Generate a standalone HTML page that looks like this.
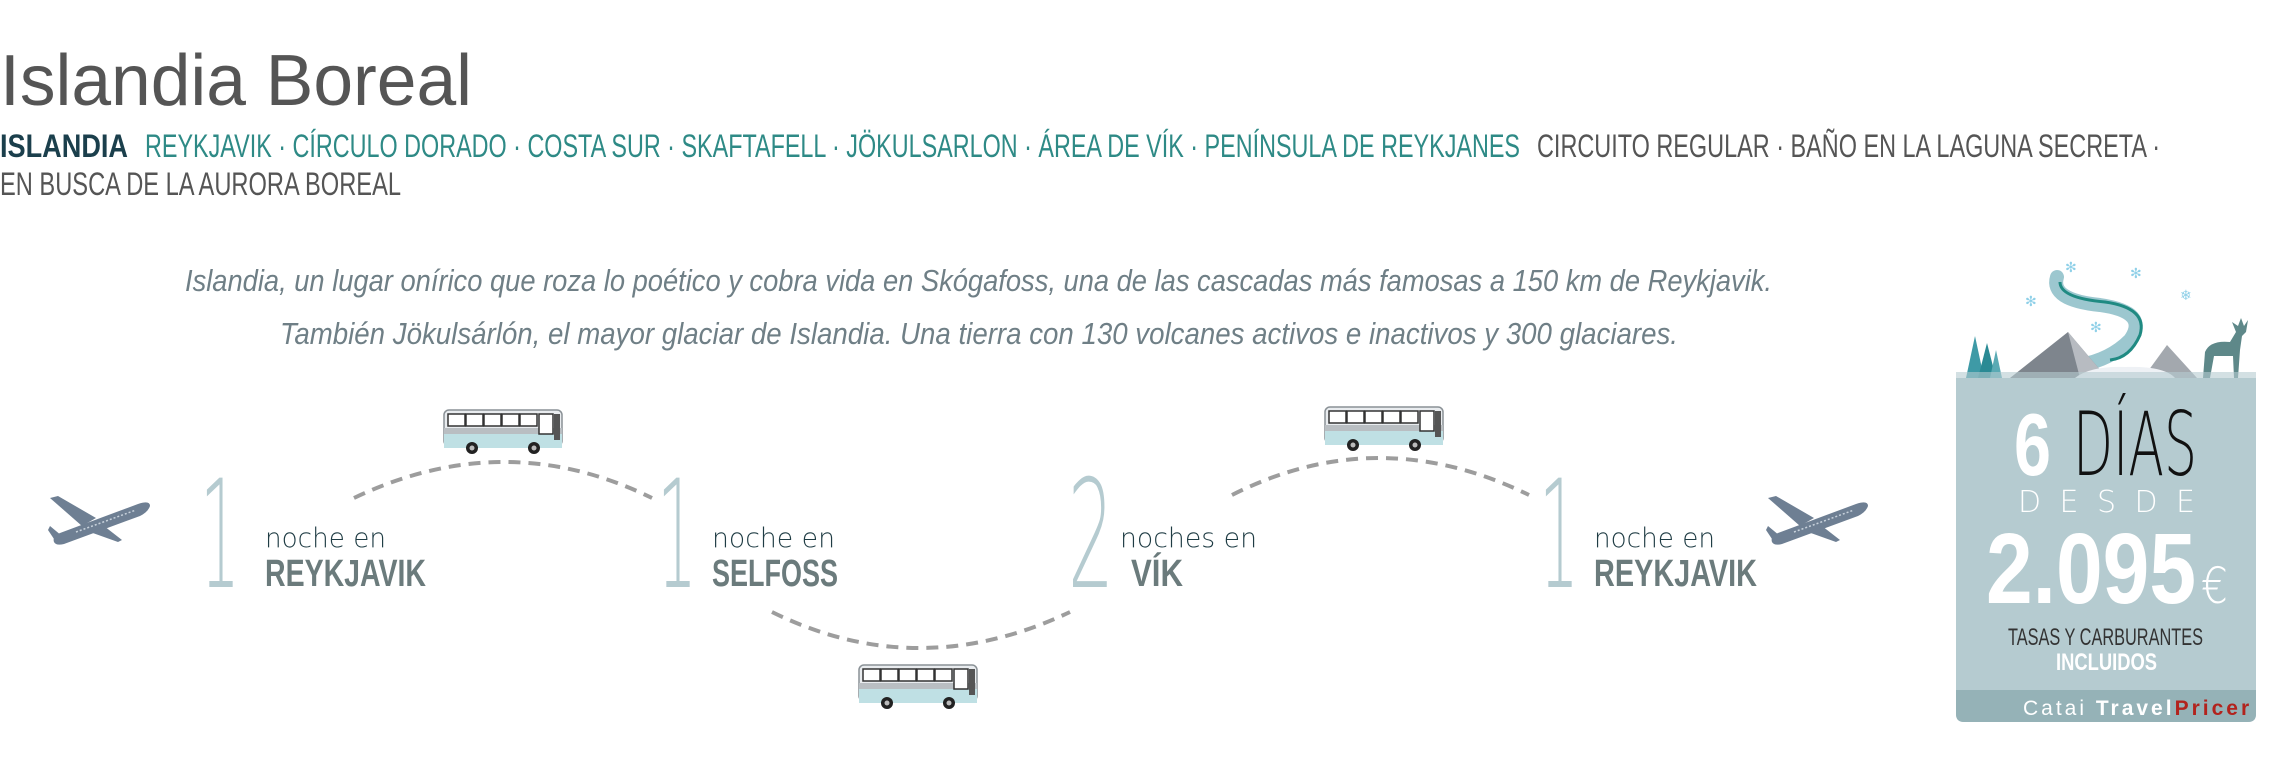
<!DOCTYPE html>
<html><head><meta charset="utf-8"><style>
html,body{margin:0;padding:0;background:#fff;}
svg{display:block;}
.thin{font-family:"DejaVu Sans ExtraLight","DejaVu Sans","Liberation Sans",sans-serif;font-weight:200;}
</style></head><body>
<svg width="2278" height="768" viewBox="0 0 2278 768" xmlns="http://www.w3.org/2000/svg" font-family="Liberation Sans, sans-serif">
<defs>
<g id="bus">
  <rect x="2" y="2" width="118" height="36" rx="5" fill="#e9ecef" stroke="#8a9196" stroke-width="1.5"/>
  <rect x="2" y="26" width="118" height="14" fill="#bfe0e4"/>
  <rect x="2" y="20" width="118" height="6" fill="#b9bec2"/>
  <g fill="#fff" stroke="#333" stroke-width="1.5">
    <rect x="6" y="6" width="17" height="12"/><rect x="24" y="6" width="17" height="12"/>
    <rect x="42" y="6" width="17" height="12"/><rect x="60" y="6" width="17" height="12"/>
    <rect x="78" y="6" width="17" height="12"/><rect x="97" y="6" width="14" height="20"/>
  </g>
  <rect x="112" y="6" width="6" height="26" fill="#555"/>
  <circle cx="30" cy="40" r="6" fill="#222"/><circle cx="30" cy="40" r="2.5" fill="#bbb"/>
  <circle cx="92" cy="40" r="6" fill="#222"/><circle cx="92" cy="40" r="2.5" fill="#bbb"/>
</g>
<g id="plane" fill="#6e7f93">
  <path d="M8 48 Q6 42 14 39 L92 10 Q104 6 104 12 Q102 18 94 22 L18 50 Q10 52 8 48 Z"/>
  <path d="M50 24 L12 2 L4 4 L36 32 Z"/>
  <path d="M58 32 L76 46 L72 48 L44 38 Z"/>
  <path d="M16 42 L4 32 L2 36 L10 48 Z"/>
  <line x1="30" y1="38" x2="90" y2="16" stroke="#c8d2dc" stroke-width="1.5" stroke-dasharray="2 2"/>
</g>
</defs>

<!-- Header -->
<text x="0" y="105" font-size="72" fill="#555" textLength="472" lengthAdjust="spacingAndGlyphs">Islandia Boreal</text>
<text x="0" y="157" font-size="32" font-weight="bold" fill="#1b3f4c" textLength="128" lengthAdjust="spacingAndGlyphs">ISLANDIA</text>
<text x="145" y="157" font-size="32" fill="#2e8a86" textLength="1375" lengthAdjust="spacingAndGlyphs">REYKJAVIK · CÍRCULO DORADO · COSTA SUR · SKAFTAFELL · JÖKULSARLON · ÁREA DE VÍK · PENÍNSULA DE REYKJANES</text>
<text x="1537" y="157" font-size="32" fill="#555" textLength="623" lengthAdjust="spacingAndGlyphs">CIRCUITO REGULAR · BAÑO EN LA LAGUNA SECRETA ·</text>
<text x="0" y="195" font-size="32" fill="#555" textLength="401" lengthAdjust="spacingAndGlyphs">EN BUSCA DE LA AURORA BOREAL</text>

<text x="185" y="291" font-size="31" font-style="italic" fill="#6f7f86" textLength="1587" lengthAdjust="spacingAndGlyphs">Islandia, un lugar onírico que roza lo poético y cobra vida en Skógafoss, una de las cascadas más famosas a 150 km de Reykjavik.</text>
<text x="280" y="344" font-size="31" font-style="italic" fill="#6f7f86" textLength="1398" lengthAdjust="spacingAndGlyphs">También Jökulsárlón, el mayor glaciar de Islandia. Una tierra con 130 volcanes activos e inactivos y 300 glaciares.</text>

<!-- arcs -->
<g fill="none" stroke="#9d9d9d" stroke-width="4" stroke-dasharray="12 8">
  <path d="M354 498 Q505 426 652 498"/>
  <path d="M772 612 Q918 684 1070 612"/>
  <path d="M1232 495 Q1378 421 1529 495"/>
</g>

<use href="#bus" x="442" y="408"/>
<use href="#bus" x="857" y="663"/>
<use href="#bus" x="1323" y="405"/>
<use href="#plane" x="46" y="494"/>
<use href="#plane" x="1764" y="494"/>

<!-- stops -->
<g font-size="150" fill="#b5cbd0" class="thin">
  <text x="200" y="587" textLength="40" lengthAdjust="spacingAndGlyphs">1</text>
  <text x="657" y="587" textLength="40" lengthAdjust="spacingAndGlyphs">1</text>
  <text x="1068" y="587" textLength="46" lengthAdjust="spacingAndGlyphs">2</text>
  <text x="1539" y="587" textLength="40" lengthAdjust="spacingAndGlyphs">1</text>
</g>
<g font-size="27" fill="#1f3c44" class="thin">
  <text x="265" y="547" textLength="121" lengthAdjust="spacingAndGlyphs">noche en</text>
  <text x="712" y="547" textLength="123" lengthAdjust="spacingAndGlyphs">noche en</text>
  <text x="1120" y="547" textLength="137" lengthAdjust="spacingAndGlyphs">noches en</text>
  <text x="1594" y="547" textLength="121" lengthAdjust="spacingAndGlyphs">noche en</text>
</g>
<g font-size="38" font-weight="bold" fill="#6b7b7c">
  <text x="265" y="586" textLength="161" lengthAdjust="spacingAndGlyphs">REYKJAVIK</text>
  <text x="712" y="586" textLength="126" lengthAdjust="spacingAndGlyphs">SELFOSS</text>
  <text x="1131" y="586" textLength="52" lengthAdjust="spacingAndGlyphs">VÍK</text>
  <text x="1594" y="586" textLength="163" lengthAdjust="spacingAndGlyphs">REYKJAVIK</text>
</g>

<!-- illustration -->
<g>
  <path d="M2057 277 Q2050 300 2100 305 Q2150 312 2130 340 Q2110 360 2080 365" fill="none" stroke="#9cc7cf" stroke-width="14" stroke-linecap="round"/>
  <path d="M2060 282 Q2060 298 2105 302 Q2148 308 2140 335 Q2130 358 2110 360" fill="none" stroke="#1f8a82" stroke-width="3"/>
  <path d="M2010 378 L2068 332 L2107 378 Z" fill="#7e858d"/>
  <path d="M2068 332 L2107 378 L2080 378 Z" fill="#b7bbc1"/>
  <path d="M2143 378 L2167 345 L2197 378 Z" fill="#a3a8ae"/>
  <path d="M2075 378 Q2090 366 2125 367 Q2165 366 2175 378 Q2150 386 2120 384 Q2090 386 2075 378 Z" fill="#eef1f5"/>
  <g fill="#3e9aa6">
    <path d="M1966 378 L1975 336 L1984 378 Z"/>
    <path d="M1978 378 L1987 343 L1996 378 Z" fill="#2a8a94"/>
    <path d="M1990 378 L1996 350 L2002 378 Z" fill="#5aaab4"/>
  </g>
  <path d="M2203 378 L2205 352 Q2210 340 2230 342 L2236 332 L2232 322 L2238 326 L2241 318 L2244 326 L2248 320 L2246 332 L2242 336 L2240 350 L2238 378 L2234 378 L2233 356 L2214 356 L2210 378 Z" fill="#5e8889"/>
  <g fill="#8fd0e8" font-size="14"><text x="2065" y="272">✻</text><text x="2130" y="278">✻</text><text x="2180" y="300">❄</text><text x="2025" y="306">✻</text><text x="2090" y="332">✻</text></g>
  <rect x="1956" y="372" width="300" height="8" fill="#b5cbd0" opacity="0.6"/>
</g>

<!-- price box -->
<path d="M1956 378 H2256 V714 Q2256 722 2248 722 H1964 Q1956 722 1956 714 Z" fill="#b5cbd0"/>
<path d="M1956 690 H2256 V714 Q2256 722 2248 722 H1964 Q1956 722 1956 714 Z" fill="#95b2b7"/>
<text x="2014" y="475" font-size="88" font-weight="bold" fill="#fff" textLength="37" lengthAdjust="spacingAndGlyphs">6</text>
<text x="2073" y="475" font-size="88" fill="#111" class="thin" textLength="124" lengthAdjust="spacingAndGlyphs">DÍAS</text>
<text x="2018" y="512" font-size="30" fill="#fff" class="thin" textLength="177" lengthAdjust="spacing">DESDE</text>
<text x="1986" y="603" font-size="100" font-weight="bold" fill="#fff" textLength="210" lengthAdjust="spacingAndGlyphs">2.095</text>
<text x="2201" y="603" font-size="50" fill="#fff" class="thin" textLength="27" lengthAdjust="spacingAndGlyphs">€</text>
<text x="2008" y="645" font-size="24" fill="#333" textLength="195" lengthAdjust="spacingAndGlyphs">TASAS Y CARBURANTES</text>
<text x="2056" y="670" font-size="24" font-weight="bold" fill="#fff" textLength="101" lengthAdjust="spacingAndGlyphs">INCLUIDOS</text>
<text x="2023" y="715" font-size="21" fill="#fff" letter-spacing="3">Catai <tspan font-weight="bold">Travel</tspan><tspan font-weight="bold" fill="#b2231d">Pricer</tspan></text>
</svg>
</body></html>
